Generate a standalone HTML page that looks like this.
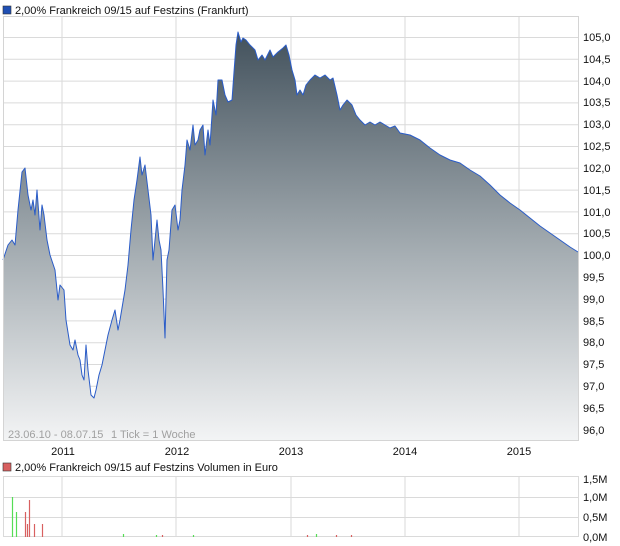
<!DOCTYPE html>
<html><head><meta charset="utf-8"><style>
html,body{margin:0;padding:0;background:#fff;}
svg{display:block;font-family:"Liberation Sans",sans-serif;}
</style></head><body>
<svg width="620" height="546" viewBox="0 0 620 546" xmlns="http://www.w3.org/2000/svg">
<defs>
<linearGradient id="g" x1="0" y1="32" x2="0" y2="441" gradientUnits="userSpaceOnUse">
<stop offset="0" stop-color="#42515c"/>
<stop offset="0.55" stop-color="#a7afb4"/>
<stop offset="1" stop-color="#f3f4f5"/>
</linearGradient>
</defs>
<rect x="3" y="6" width="8" height="8" fill="#1f4fb4" stroke="#333" stroke-width="0.6"/>
<text x="15" y="14" font-size="11" fill="#111">2,00% Frankreich 09/15 auf Festzins (Frankfurt)</text>
<g stroke="#dadada" stroke-width="1" fill="none">
<line x1="62" y1="17" x2="62" y2="441"/><line x1="176" y1="17" x2="176" y2="441"/>
<line x1="291" y1="17" x2="291" y2="441"/><line x1="405" y1="17" x2="405" y2="441"/>
<line x1="519" y1="17" x2="519" y2="441"/>
<line x1="3" y1="37.5" x2="578" y2="37.5"/><line x1="3" y1="59.3" x2="578" y2="59.3"/>
<line x1="3" y1="81.1" x2="578" y2="81.1"/><line x1="3" y1="102.9" x2="578" y2="102.9"/>
<line x1="3" y1="124.7" x2="578" y2="124.7"/><line x1="3" y1="146.5" x2="578" y2="146.5"/>
<line x1="3" y1="168.3" x2="578" y2="168.3"/><line x1="3" y1="190.1" x2="578" y2="190.1"/>
<line x1="3" y1="211.9" x2="578" y2="211.9"/><line x1="3" y1="233.7" x2="578" y2="233.7"/>
<line x1="3" y1="255.5" x2="578" y2="255.5"/><line x1="3" y1="277.3" x2="578" y2="277.3"/>
<line x1="3" y1="299.1" x2="578" y2="299.1"/><line x1="3" y1="320.9" x2="578" y2="320.9"/>
<line x1="3" y1="342.7" x2="578" y2="342.7"/><line x1="3" y1="364.5" x2="578" y2="364.5"/>
<line x1="3" y1="386.3" x2="578" y2="386.3"/><line x1="3" y1="408.1" x2="578" y2="408.1"/>
<line x1="3" y1="429.9" x2="578" y2="429.9"/>
</g>
<path id="d" fill="url(#g)" stroke="none" d="M3,260 L8,245 12,240 15,245 18,210 22,172 25,168 28,195 31,210 33,200 35,215 37,190 40,230 42,205 44,215 47,240 50,255 55,270 58,300 60,285 64,290 66,320 70,345 73,350 75,340 78,355 80,360 82,375 84,380 86,345 88,370 91,395 94,398 96,390 99,375 102,365 105,350 108,335 112,320 115,310 118,330 120,320 125,290 128,265 131,230 134,200 137,180 140,157 142,175 145,165 148,190 151,215 153,260 155,240 157,220 159,240 161,250 163,290 165,338 167,260 169,250 172,210 175,205 178,230 180,220 182,190 185,165 187,140 190,150 193,125 195,145 198,140 200,130 203,125 205,155 208,130 210,145 213,100 216,115 218,80 222,80 225,95 228,102 232,100 234,72 236,45 238,32 241,42 243,38 246,40 250,45 255,50 258,60 262,55 265,60 270,50 273,57 278,52 283,48 286,45 289,55 292,70 295,80 297,95 300,90 303,95 306,85 310,80 315,75 320,78 325,75 330,80 333,78 337,95 340,110 343,105 347,100 352,105 356,115 360,120 365,125 370,122 375,125 380,122 385,125 390,128 395,126 400,133 410,135 420,140 430,148 440,155 450,160 460,163 470,170 480,176 490,185 500,195 510,203 520,210 530,218 540,226 550,233 560,240 570,247 578,252 L578,441 L3,441 Z"/>
<path fill="none" stroke="#2a5cc8" stroke-width="1" stroke-linejoin="round" d="M3,260 L8,245 12,240 15,245 18,210 22,172 25,168 28,195 31,210 33,200 35,215 37,190 40,230 42,205 44,215 47,240 50,255 55,270 58,300 60,285 64,290 66,320 70,345 73,350 75,340 78,355 80,360 82,375 84,380 86,345 88,370 91,395 94,398 96,390 99,375 102,365 105,350 108,335 112,320 115,310 118,330 120,320 125,290 128,265 131,230 134,200 137,180 140,157 142,175 145,165 148,190 151,215 153,260 155,240 157,220 159,240 161,250 163,290 165,338 167,260 169,250 172,210 175,205 178,230 180,220 182,190 185,165 187,140 190,150 193,125 195,145 198,140 200,130 203,125 205,155 208,130 210,145 213,100 216,115 218,80 222,80 225,95 228,102 232,100 234,72 236,45 238,32 241,42 243,38 246,40 250,45 255,50 258,60 262,55 265,60 270,50 273,57 278,52 283,48 286,45 289,55 292,70 295,80 297,95 300,90 303,95 306,85 310,80 315,75 320,78 325,75 330,80 333,78 337,95 340,110 343,105 347,100 352,105 356,115 360,120 365,125 370,122 375,125 380,122 385,125 390,128 395,126 400,133 410,135 420,140 430,148 440,155 450,160 460,163 470,170 480,176 490,185 500,195 510,203 520,210 530,218 540,226 550,233 560,240 570,247 578,252"/>
<rect x="3.5" y="16.5" width="575" height="424" fill="none" stroke="#d4d4d4"/>
<g font-size="11" fill="#111">
<text x="583" y="41">105,0</text><text x="583" y="63">104,5</text><text x="583" y="85">104,0</text>
<text x="583" y="106">103,5</text><text x="583" y="128">103,0</text><text x="583" y="150">102,5</text>
<text x="583" y="172">102,0</text><text x="583" y="194">101,5</text><text x="583" y="216">101,0</text>
<text x="583" y="237">100,5</text><text x="583" y="259">100,0</text><text x="583" y="281">99,5</text>
<text x="583" y="303">99,0</text><text x="583" y="325">98,5</text><text x="583" y="346">98,0</text>
<text x="583" y="368">97,5</text><text x="583" y="390">97,0</text><text x="583" y="412">96,5</text>
<text x="583" y="434">96,0</text>
<text x="63" y="455" text-anchor="middle">2011</text><text x="177" y="455" text-anchor="middle">2012</text>
<text x="291" y="455" text-anchor="middle">2013</text><text x="405" y="455" text-anchor="middle">2014</text>
<text x="519" y="455" text-anchor="middle">2015</text>
</g>
<text x="8" y="438" font-size="11" fill="#a0a0a0">23.06.10 - 08.07.15</text>
<text x="111" y="438" font-size="11" fill="#a0a0a0">1 Tick = 1 Woche</text>
<rect x="3" y="463" width="8" height="8" fill="#d86060" stroke="#333" stroke-width="0.6"/>
<text x="15" y="471" font-size="11" fill="#111">2,00% Frankreich 09/15 auf Festzins Volumen in Euro</text>
<g stroke="#dadada" stroke-width="1" fill="none">
<rect x="3.5" y="476.5" width="575" height="60"/>
<line x1="62" y1="477" x2="62" y2="537"/><line x1="176" y1="477" x2="176" y2="537"/>
<line x1="291" y1="477" x2="291" y2="537"/><line x1="405" y1="477" x2="405" y2="537"/>
<line x1="519" y1="477" x2="519" y2="537"/>
<line x1="3" y1="497.5" x2="578" y2="497.5"/><line x1="3" y1="517.5" x2="578" y2="517.5"/>
</g>
<g stroke-width="1.2">
<line x1="12.5" y1="497" x2="12.5" y2="537" stroke="#55dd55"/>
<line x1="16.5" y1="512" x2="16.5" y2="537" stroke="#55dd55"/>
<line x1="25.5" y1="512" x2="25.5" y2="537" stroke="#d86060"/>
<line x1="27.5" y1="524" x2="27.5" y2="537" stroke="#d86060"/>
<line x1="29.5" y1="500" x2="29.5" y2="537" stroke="#d86060"/>
<line x1="34.5" y1="524" x2="34.5" y2="537" stroke="#d86060"/>
<line x1="42.5" y1="524" x2="42.5" y2="537" stroke="#d86060"/>
<line x1="123.5" y1="534" x2="123.5" y2="537" stroke="#55dd55"/>
<line x1="156.5" y1="535" x2="156.5" y2="537" stroke="#55dd55"/>
<line x1="162.5" y1="535" x2="162.5" y2="537" stroke="#d86060"/>
<line x1="193.5" y1="535" x2="193.5" y2="537" stroke="#55dd55"/>
<line x1="307.5" y1="535" x2="307.5" y2="537" stroke="#d86060"/>
<line x1="316.5" y1="534" x2="316.5" y2="537" stroke="#55dd55"/>
<line x1="336.5" y1="535" x2="336.5" y2="537" stroke="#d86060"/>
<line x1="351.5" y1="535" x2="351.5" y2="537" stroke="#d86060"/>
</g>
<g font-size="11" fill="#111">
<text x="583" y="483">1,5M</text><text x="583" y="501">1,0M</text>
<text x="583" y="521">0,5M</text><text x="583" y="541">0,0M</text>
</g>
</svg>
</body></html>
